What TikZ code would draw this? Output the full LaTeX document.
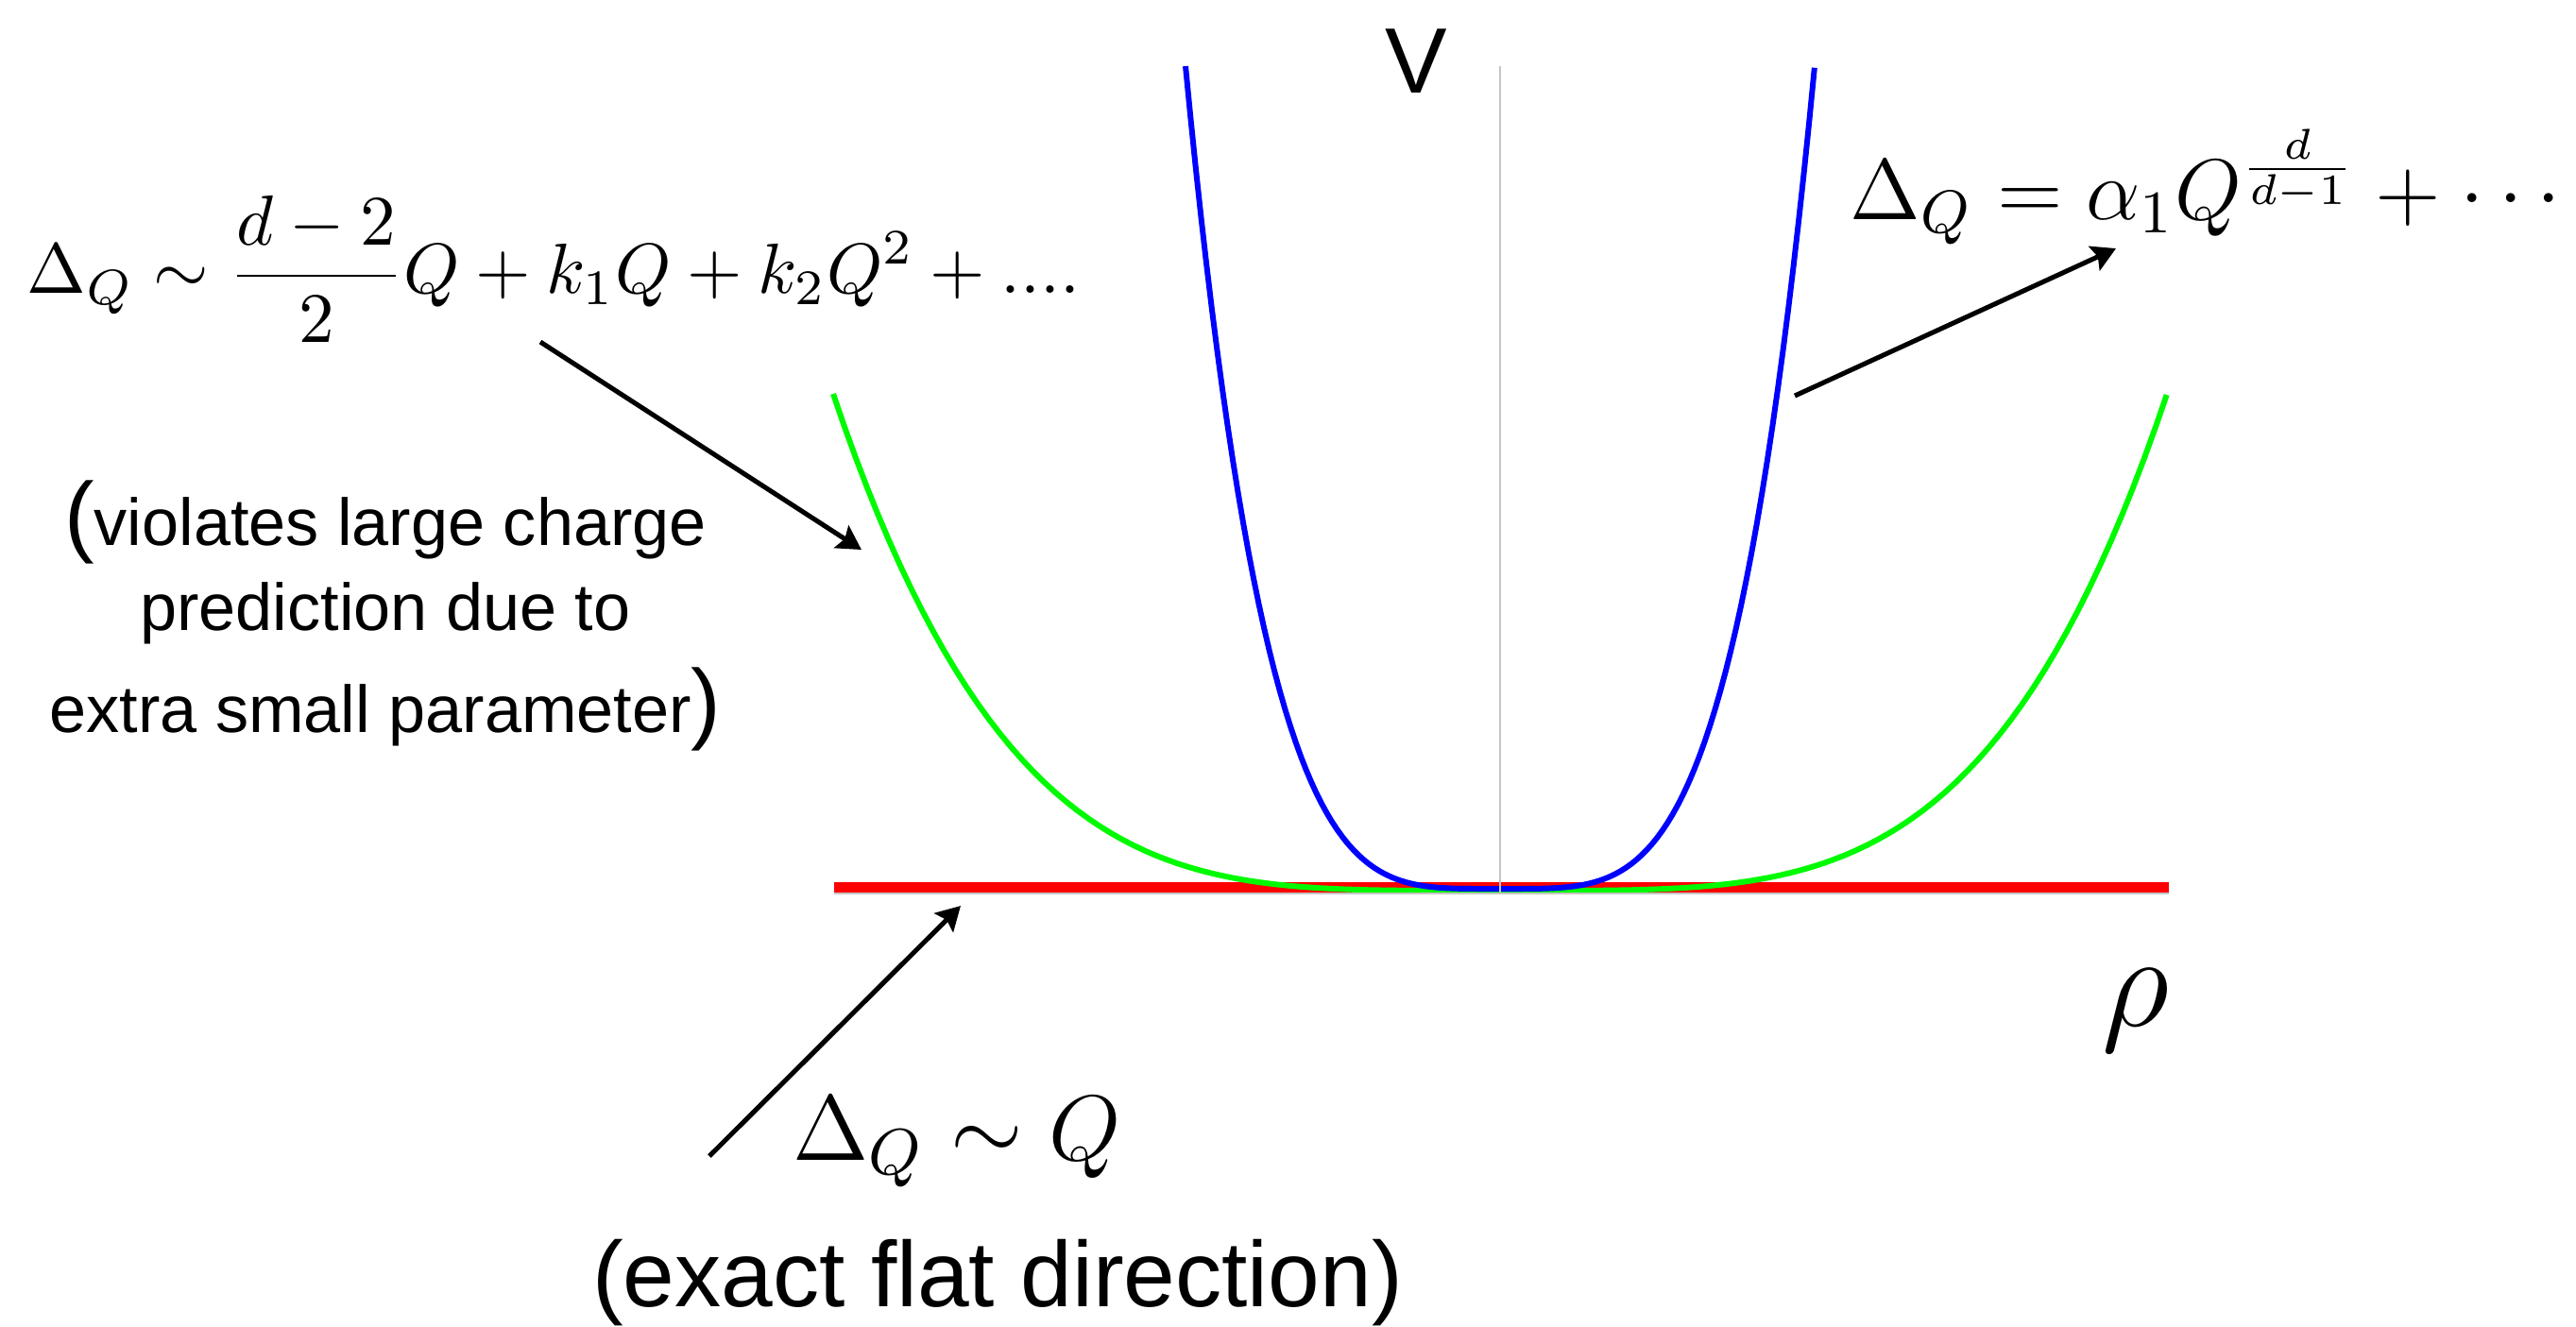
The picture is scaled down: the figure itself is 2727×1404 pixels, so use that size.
\RequirePackage{fix-cm}
\documentclass[tikz,border=0pt]{standalone}
\usepackage[no-math]{fontspec}
\setmainfont{Liberation Sans}
\usetikzlibrary{arrows.meta}

\definecolor{potblue}{RGB}{0,0,255}
\definecolor{potgreen}{RGB}{0,250,0}
\definecolor{potred}{RGB}{255,0,0}

\begin{document}
\begin{tikzpicture}[x=0.005cm, y=-0.005cm,
    pointer/.style={-{Stealth[length=3.6pt,width=4pt,inset=0.6pt]}, line width=0.72pt},
    curve/.style={line width=0.85pt},
    axisline/.style={gray!45, line width=0.28pt}]
  \useasboundingbox (0,0) rectangle (2727,1404);

  % the flat direction and the two potentials
  \draw[potred, line width=1.65pt] (883,939.5) -- (2296,939.5);
  \draw[curve, potgreen] plot[domain=-1:1, samples=121] ({1588+706*\x}, {943-526*\x*\x*\x*\x});
  \draw[curve, potblue] plot[domain=-1:1, samples=121] ({1588+333*\x}, {941-871*\x*\x*\x*\x});
  \draw[axisline] (1588,70) -- (1588,945);
  \draw[axisline] (883,945.5) -- (2296,945.5);

  \node (Vlabel) at (1499,65) {\fontsize{14}{16}\selectfont V};
  \node (rholabel) at (2261,1070) {\fontsize{20}{24}\selectfont $\rho$};

  % formulas
  \node[inner sep=0pt] (smallQ) at (586,285)
    {\fontsize{10.7}{13}\selectfont $\displaystyle \Delta_Q\sim\frac{d-2}{2}Q+k_1Q+k_2Q^2+....$};
  \node[inner sep=0pt] (largeQ) at (2335,198)
    {\fontsize{13}{16}\selectfont $\Delta_Q=\alpha_1 Q^{\frac{d}{d-1}}+\cdots$};
  \node[inner sep=0pt] (flatQ) at (1013,1209) {\fontsize{14}{16}\selectfont $\Delta_Q\sim Q$};
  \node (flatnote) at (1056,1358) {\fontsize{14}{16}\selectfont (exact flat direction)};

  \node[anchor=base] (violA) at (408,577)
    {\fontsize{10}{12}\selectfont {\fontsize{13.5}{14}\selectfont(}violates large charge};
  \node[anchor=base] (violB) at (408,667) {\fontsize{10}{12}\selectfont prediction due to};
  \node[anchor=base] (violC) at (408,775)
    {\fontsize{10}{12}\selectfont extra small parameter{\fontsize{13.5}{14}\selectfont)}};

  % pointers
  \coordinate (smallfoot) at (572,362);
  \coordinate (greenhit) at (912,582);
  \coordinate (bluefoot) at (1900,419);
  \coordinate (largehit) at (2240,263);
  \coordinate (flatfoot) at (751,1224);
  \coordinate (redhit) at (1017,959);
  \draw[pointer] (smallfoot) -- (greenhit);
  \draw[pointer] (bluefoot) -- (largehit);
  \draw[pointer] (flatfoot) -- (redhit);
\end{tikzpicture}
\end{document}
